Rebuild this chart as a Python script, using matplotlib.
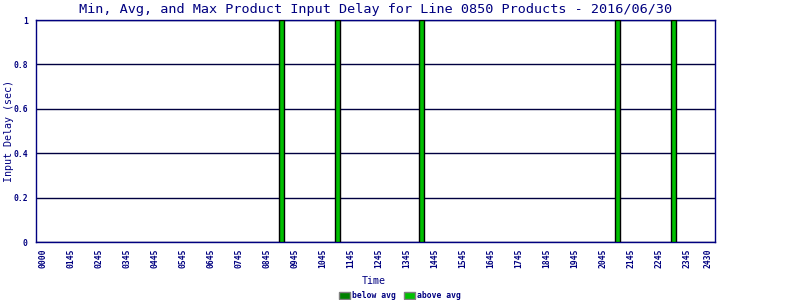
import matplotlib
matplotlib.use("Agg")
import matplotlib.pyplot as plt
from matplotlib.patches import Patch

# time axis is in 15-minute slots; labels sit every 4 slots
tick_labels = ["0000", "0145", "0245", "0345", "0445", "0545", "0645", "0745",
               "0845", "0945", "1045", "1145", "1245", "1345", "1445", "1545",
               "1645", "1745", "1845", "1945", "2045", "2145", "2245", "2345",
               "2430"]
tick_slots = [0, 4, 8, 12, 16, 20, 24, 28, 32, 36, 40, 44, 48, 52, 56, 60,
              64, 68, 72, 76, 80, 84, 88, 92, 95]

# input delay samples (sec), all above average
bar_slots = [34, 42, 54, 82, 90]
bar_delay = [1.0, 1.0, 1.0, 1.0, 1.0]

navy = "#000080"
below_col = "#008000"
above_col = "#00C000"
mono = "DejaVu Sans Mono"

fig = plt.figure(figsize=(8, 3), dpi=100)
ax = fig.add_axes([0.045, 0.1933, 0.849, 0.74])

ax.bar(bar_slots, bar_delay, width=0.7, color=above_col,
       edgecolor="black", linewidth=1.0, zorder=3)

ax.set_xlim(-1, 96)
ax.set_ylim(0, 1)
ax.set_yticks([0, 0.2, 0.4, 0.6, 0.8, 1])
ax.set_yticklabels(["0", "0.2", "0.4", "0.6", "0.8", "1"])
ax.set_xticks(tick_slots)
ax.set_xticklabels(tick_labels, rotation=90)
ax.tick_params(axis="y", length=0, pad=6, labelcolor=navy)
ax.tick_params(axis="x", length=0, pad=5, labelcolor=navy)
for lab in ax.get_xticklabels() + ax.get_yticklabels():
    lab.set_fontfamily(mono)
    lab.set_fontsize(5.8)
    lab.set_fontweight("bold")

ax.yaxis.grid(True, color="#000040", linewidth=1.0, zorder=1)
for s in ax.spines.values():
    s.set_color(navy)
    s.set_linewidth(1.0)

fig.text(0.469, 0.968,
         "Min, Avg, and Max Product Input Delay for Line 0850 Products - 2016/06/30",
         ha="center", va="center", fontfamily=mono, fontsize=9.7, color=navy)
ax.set_ylabel("Input Delay (sec)", fontfamily=mono, fontsize=7.2, color=navy)
ax.yaxis.set_label_coords(-0.033, 0.5)
ax.set_xlabel("Time", fontfamily=mono, fontsize=7.2, color=navy)
ax.xaxis.set_label_coords(0.498, -0.155)

handles = [Patch(facecolor=below_col, edgecolor="gray", label="below avg"),
           Patch(facecolor=above_col, edgecolor="gray", label="above avg")]
leg = fig.legend(handles=handles, loc="center", ncol=2, frameon=False,
                 bbox_to_anchor=(0.5, 0.015), handlelength=1.3, handleheight=1.0,
                 handletextpad=0.3, columnspacing=1.0, borderpad=0,
                 prop={"family": mono, "size": 5.8, "weight": "bold"})
for t in leg.get_texts():
    t.set_color(navy)

fig.savefig("out.png", dpi=100)
